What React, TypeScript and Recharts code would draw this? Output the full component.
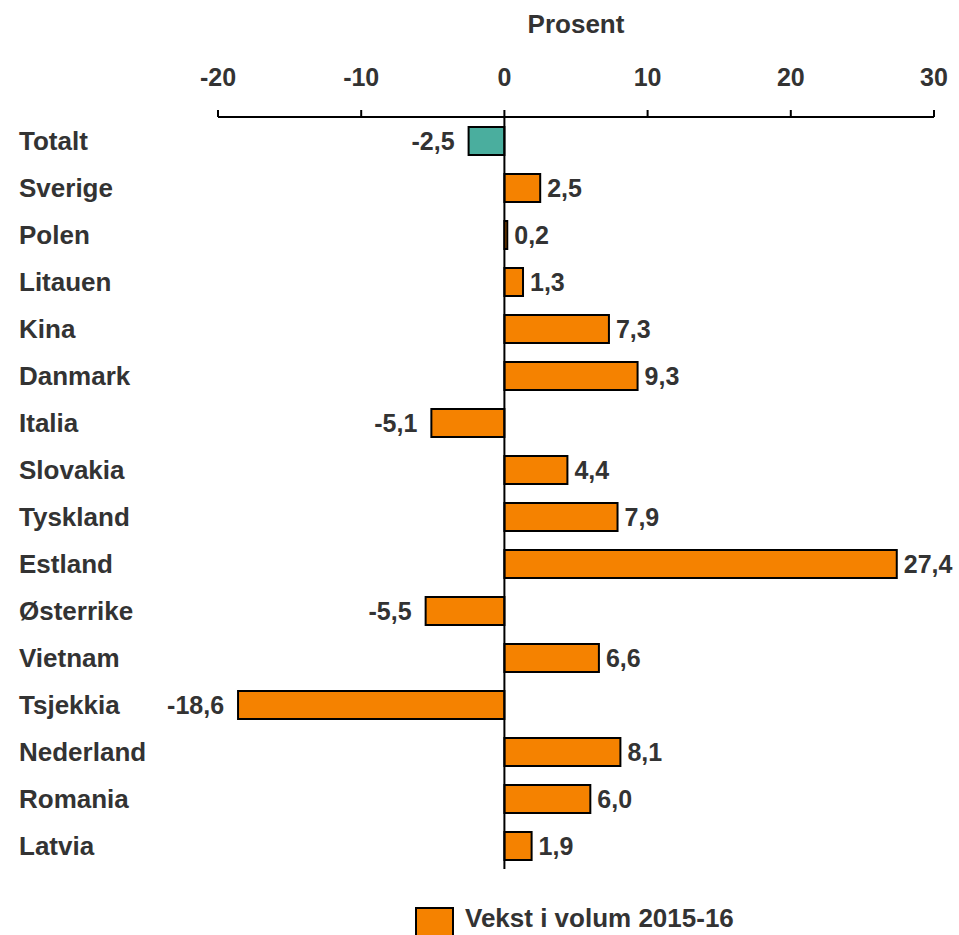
import React from "react";
import {
  BarChart,
  Bar,
  XAxis,
  YAxis,
  Cell,
  LabelList,
  ReferenceLine,
} from "recharts";

const countries = [
  "Totalt",
  "Sverige",
  "Polen",
  "Litauen",
  "Kina",
  "Danmark",
  "Italia",
  "Slovakia",
  "Tyskland",
  "Estland",
  "Østerrike",
  "Vietnam",
  "Tsjekkia",
  "Nederland",
  "Romania",
  "Latvia",
];

const growth = [
  -2.5, 2.5, 0.2, 1.3, 7.3, 9.3, -5.1, 4.4, 7.9, 27.4, -5.5, 6.6, -18.6, 8.1,
  6.0, 1.9,
];

const xTicks = [-20, -10, 0, 10, 20, 30];

const seriesName = "Vekst i volum 2015-16";
const axisTitle = "Prosent";

const data = countries.map((name, i) => ({ name, value: growth[i] }));

const FONT = '"Liberation Sans", Arial, sans-serif';
const TEXT = "#333333";
const ORANGE = "#F58200";
const TEAL = "#4AAE9E";

const fmt = (v: number) => v.toFixed(1).replace(".", ",");

const CategoryTick = ({ y, payload }: any) => (
  <text
    x={19}
    y={y}
    dy="0.355em"
    textAnchor="start"
    fill={TEXT}
    fontSize={26}
    fontWeight="bold"
    fontFamily={FONT}
  >
    {payload.value}
  </text>
);

const ValueLabel = (props: any) => {
  const { x, y, width, height, value } = props;
  const left = Math.min(x, x + width);
  const right = Math.max(x, x + width);
  const neg = value < 0;
  return (
    <text
      x={neg ? left - 14 : right + 7}
      y={y + height / 2}
      dy="0.355em"
      textAnchor={neg ? "end" : "start"}
      fill={TEXT}
      fontSize={25}
      fontWeight="bold"
      fontFamily={FONT}
    >
      {fmt(value)}
    </text>
  );
};

const App = () => {
  return (
    <div
      style={{
        position: "absolute",
        left: 0,
        top: 0,
        width: 959,
        height: 935,
        overflow: "hidden",
        background: "#fff",
      }}
    >
      <div
        style={{
          position: "absolute",
          left: 218,
          width: 716,
          top: 9,
          textAlign: "center",
          fontFamily: FONT,
          fontWeight: "bold",
          fontSize: 26,
          color: TEXT,
        }}
      >
        {axisTitle}
      </div>
      <BarChart
        width={959}
        height={935}
        data={data}
        layout="vertical"
        margin={{ top: 77, right: 25, left: 0, bottom: 66 }}
        barSize={28}
      >
        <XAxis
          type="number"
          orientation="top"
          domain={[-20, 30]}
          ticks={xTicks}
          height={40}
          tickSize={7}
          tickMargin={24}
          stroke="#000"
          strokeWidth={2}
          tick={{
            fill: TEXT,
            fontSize: 25,
            fontWeight: "bold",
            fontFamily: FONT,
          }}
          allowDataOverflow
        />
        <YAxis
          type="category"
          dataKey="name"
          width={218}
          axisLine={false}
          tickLine={false}
          interval={0}
          tick={<CategoryTick />}
        />
        <Bar
          dataKey="value"
          stroke="#000"
          strokeWidth={2}
          isAnimationActive={false}
        >
          {data.map((d, i) => (
            <Cell key={d.name} fill={i === 0 ? TEAL : ORANGE} />
          ))}
          <LabelList dataKey="value" content={<ValueLabel />} />
        </Bar>
        <ReferenceLine x={0} stroke="#000" strokeWidth={2} />
      </BarChart>
      <div
        style={{
          position: "absolute",
          left: 415,
          top: 907,
          display: "flex",
          alignItems: "flex-start",
          fontFamily: FONT,
          fontWeight: "bold",
          fontSize: 26,
          color: TEXT,
        }}
      >
        <div
          style={{
            width: 35,
            height: 35,
            background: ORANGE,
            border: "2px solid #000",
            marginRight: 11,
          }}
        />
        <div style={{ marginTop: -1, lineHeight: "24px" }}>{seriesName}</div>
      </div>
    </div>
  );
};

export default App;
